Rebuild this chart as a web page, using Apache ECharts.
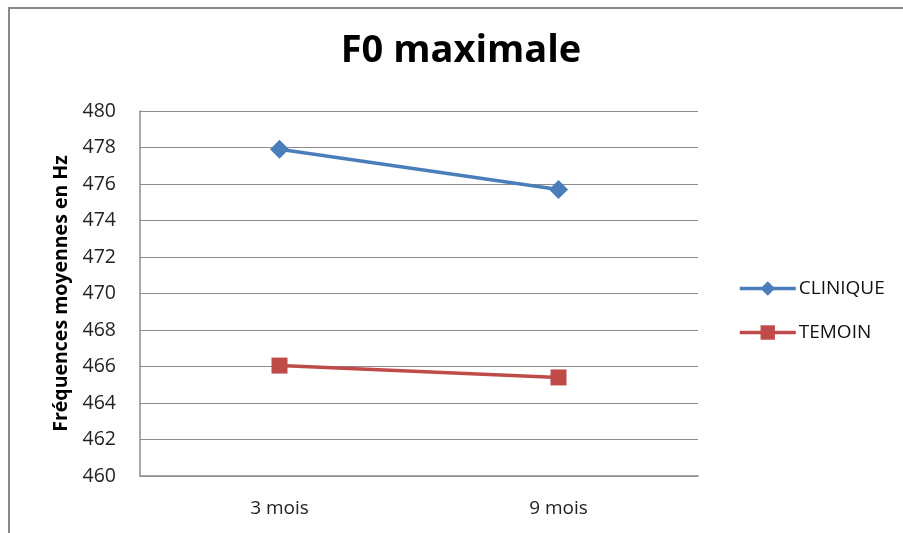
<!DOCTYPE html>
<html>
<head>
<meta charset="utf-8">
<script src="https://cdn.jsdelivr.net/npm/echarts@6/dist/echarts.min.js"></script>
<style>
html,body{margin:0;padding:0;background:#fff;}
#c{width:903px;height:533px;}
</style>
</head>
<body>
<div id="c"></div>
<script>
const categories = ['3 mois', '9 mois'];
const clinique = [477.9, 475.7];
const temoin = [466.05, 465.4];
const seriesNames = ['CLINIQUE', 'TEMOIN'];

const chart = echarts.init(document.getElementById('c'), null, {renderer: 'canvas'});
const font = '"Open Sans", "Liberation Sans", sans-serif';
chart.setOption({
  animation: false,
  backgroundColor: '#fff',
  title: {
    text: 'F0 maximale',
    left: 456, top: 27, textAlign: 'center',
    textStyle: {fontFamily: font, fontWeight: 'bold', fontSize: 38, color: '#000'}
  },
  graphic: [{
    type: 'rect', shape: {x: 9, y: 8, width: 1000, height: 1000},
    style: {fill: 'none', stroke: '#888', lineWidth: 2}, silent: true
  }],
  grid: {left: 140, top: 111, right: 205, bottom: 57},
  legend: {
    orient: 'vertical', left: 733, top: 274, itemGap: 25,
    itemWidth: 56, itemHeight: 18,
    lineStyle: {width: 3.5},
    textStyle: {fontFamily: font, fontSize: 19, color: '#111', padding: [0,0,0,-2]},
    data: seriesNames
  },
  xAxis: {
    type: 'category', data: categories, boundaryGap: true,
    axisLine: {lineStyle: {color: '#8c8c8c', width: 1.5}},
    axisTick: {show: false},
    axisLabel: {fontFamily: font, fontSize: 19, color: '#222', margin: 23}
  },
  yAxis: {
    type: 'value', min: 460, max: 480, interval: 2,
    name: 'Fréquences moyennes en Hz', nameLocation: 'middle', nameGap: 69, nameRotate: 90,
    nameTextStyle: {fontFamily: font, fontWeight: 'bold', fontSize: 19.5, color: '#000'},
    axisLine: {show: true, lineStyle: {color: '#8c8c8c', width: 1.5}},
    axisTick: {show: false},
    splitLine: {lineStyle: {color: '#8c8c8c', width: 1}},
    axisLabel: {fontFamily: font, fontSize: 19.5, color: '#222', margin: 24}
  },
  series: [
    {name: seriesNames[0], type: 'line', data: clinique, symbol: 'diamond', symbolSize: [19, 19],
     color: '#4a7ebb', lineStyle: {width: 3.5, color: '#4a7ebb'}, itemStyle: {color: '#4a7ebb'}},
    {name: seriesNames[1], type: 'line', data: temoin, symbol: 'rect', symbolSize: 16,
     color: '#be4b48', lineStyle: {width: 3.5, color: '#be4b48'}, itemStyle: {color: '#be4b48'}}
  ]
});
</script>
</body>
</html>
